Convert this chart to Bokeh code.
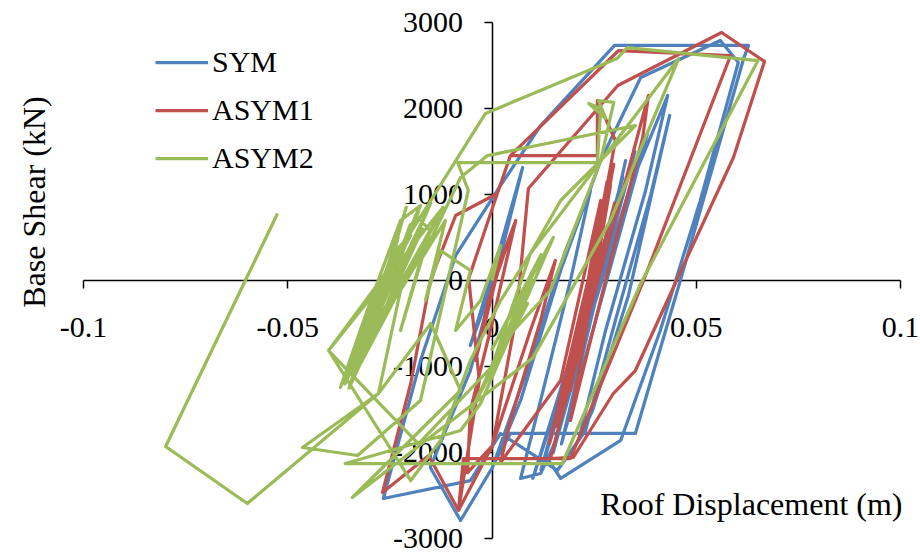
import math

from bokeh.embed import file_html
from bokeh.models import (ColumnDataSource, CustomJSTickFormatter, FixedTicker,
                          Label, Legend, LegendItem, Range1d)
from bokeh.plotting import figure
from bokeh.resources import INLINE

# Roof displacement (m) and base shear (kN) histories for each model
sym_disp = [0.0000, 0.0033, -0.0013, -0.0053, 0.0021, 0.0075, 0.0009, -0.0053, -0.0151, -0.0077,
            0.0001, 0.0094, 0.0180, 0.0241, 0.0192, 0.0119, 0.0070, 0.0119, 0.0160, 0.0253,
            0.0339, 0.0430, 0.0376, 0.0278, 0.0212, 0.0246, 0.0334, 0.0435, 0.0388, 0.0302,
            0.0229, 0.0160, 0.0021, -0.0053, -0.0266, -0.0175, -0.0089, 0.0021, 0.0119, 0.0300,
            0.0628, 0.0616, 0.0461, 0.0351, 0.0045, 0.0009, 0.0070, 0.0168, 0.0266, 0.0364,
            0.0559, 0.0603, 0.0510, 0.0412, 0.0315, 0.0168, 0.0131, 0.0205, 0.0290, 0.0327,
            0.0278, 0.0217, 0.0155, 0.0192, 0.0266, 0.0315, 0.0266,
            0.0140, 0.0300, 0.0180, 0.0350, 0.0150, 0.0280, 0.0200, 0.0320, 0.0120, 0.0260,
            0.0230, 0.0380, 0.0170, 0.0310, 0.0100, 0.0240]
sym_shear = [0, 581, -233, -756, 407, 1314, 58, -1047, -2174, -2791,
             -2174, -930, 349, 1047, 0, -1395, -2302, -2244, -1826, -233,
             1105, 2151, 1047, -581, -1860, -1512, -174, 1919, 988, -465,
             -1744, -2209, -1779, -2326, -2535, -930, 291, 1105, 1802, 2733,
             2733, 2581, 0, -1779, -1779, -2093, -1395, 116, 1395, 2360,
             2791, 2535, 930, -581, -1860, -2302, -2035, -930, 581, 1395,
             349, -814, -1628, -1163, 116, 988, 0,
             -1700, 800, -1300, 1500, -2000, 400, -1100, 1200, -2200, 100,
             -600, 1700, -1900, 900, -2300, -300]

asym1_disp = [0.0000, 0.0045, -0.0009, -0.0040, 0.0021, 0.0058, -0.0004, -0.0053, -0.0060, 0.0001,
              0.0094, 0.0155, 0.0119, 0.0045, 0.0021, 0.0168, 0.0266, 0.0205, 0.0278, 0.0192,
              0.0261, 0.0217, 0.0290, 0.0229, 0.0180, 0.0253, 0.0295, 0.0241, 0.0197, 0.0266,
              0.0302, 0.0258, 0.0258, 0.0045, 0.0013, -0.0057, -0.0031, -0.0082, -0.0155, -0.0268,
              -0.0199, -0.0151, -0.0089, 0.0013, 0.0045, 0.0310, 0.0584, 0.0371, 0.0192, -0.0070,
              -0.0082, 0.0001, 0.0060, 0.0089, 0.0308, 0.0562, 0.0667, 0.0591, 0.0454, 0.0351,
              0.0297, 0.0199, 0.0143, 0.0212, 0.0327, 0.0383, 0.0369, 0.0290, 0.0229, 0.0192,
              0.0246, 0.0300, 0.0250,
              0.0185, 0.0275, 0.0195, 0.0285, 0.0178, 0.0268, 0.0203, 0.0292, 0.0188, 0.0270,
              0.0210, 0.0282, 0.0172, 0.0262, 0.0215, 0.0298, 0.0183, 0.0276, 0.0160, 0.0250,
              0.0140, 0.0230]
asym1_shear = [0, 523, -233, -930, 233, 698, -581, -1512, -2233, -1919,
               -581, 233, -465, -1628, -2116, -1163, 930, -930, 1047, -1279,
               581, -698, 1105, -581, -1395, 349, 1279, -233, -1047, 698,
               1628, 2093, 1453, 1453, 1012, 23, -1163, -2674, -2035, -2465,
               -1198, 0, 756, 1012, 1453, 2674, 2616, 0, -2070, -2070,
               -2674, -1919, -400, 1070, 2267, 2884, 2547, 1430, 23, -1047,
               -1314, -2058, -2070, -814, 1163, 2151, 1663, 233, -930, -1628,
               -116, 900, 0,
               -1300, 900, -1150, 1000, -1450, 750, -1000, 1200, -1250, 600,
               -850, 1150, -1550, 500, -700, 1350, -1350, 850, -1700, 300,
               -1900, -100]

asym2_disp = [0.0000, 0.0021, -0.0028, -0.0089, -0.0053, -0.0126, -0.0163, -0.0114, -0.0175, -0.0224,
              -0.0151, -0.0187, -0.0273, -0.0354, -0.0248, -0.0175, -0.0224, -0.0297, -0.0371, -0.0273,
              -0.0199, -0.0236, -0.0322,
              -0.0330, -0.0180, -0.0340, -0.0200, -0.0310, -0.0150, -0.0360, -0.0230, -0.0290, -0.0130,
              -0.0320, -0.0210, -0.0350, -0.0170, -0.0280, -0.0120,
              -0.0400, -0.0199, -0.0126, -0.0053, 0.0021, 0.0094, 0.0168,
              0.0351, -0.0011, -0.0077, -0.0151, -0.0224, -0.0278, -0.0464, -0.0329, -0.0175, -0.0058,
              -0.0084, 0.0258, 0.0266, 0.0237, 0.0278, 0.0261, 0.0298, 0.0266, 0.0143, 0.0053,
              0.0087, -0.0050, 0.0100, -0.0020, 0.0120, 0.0000, 0.0150,
              -0.0028, -0.0077, -0.0359, 0.0172, 0.0364, 0.0651, 0.0331, 0.0306, -0.0016,
              -0.0273, -0.0400, -0.0180, 0.0000, 0.0094, 0.0457, 0.0290, 0.0100, -0.0342, -0.0077,
              -0.0150, -0.0278, -0.0599, -0.0799, -0.0525]
asym2_shear = [0, 407, -233, -581, 116, 349, -233, 698, 233, -581,
               581, 756, -349, -1128, 116, 872, 698, -233, -1244, -116,
               523, 349, -581,
               -1000, 800, -1150, 650, -850, 900, -1200, 500, -600, 750,
               -950, 850, -1250, 600, -500, 850,
               -814, -2326, -1860, -930, -233, 314, 930,
               1802, 1453, 1198, 465, -116, -1314, -1942, -2035, -1395, 1047,
               1372, 1372, 2000, 2058, 1884, 2093, 2070, 1395, -116, -581,
               -267, -1500, 0, -1200, 300, -800, 500,
               -1430, -1744, -2128, -2128, -35, 2558, 2709, 2581, 1942,
               0, -814, -1900, -1000, 314, 2581, 700, -900, -2523, -1279,
               -500, -1314, -2593, -1930, 779]

series_names = ["SYM", "ASYM1", "ASYM2"]
series_colors = ["#4F81BD", "#C0504D", "#9BBB59"]

x_ticks = [-0.1, -0.05, 0, 0.05, 0.1]
y_ticks = [-3000, -2000, -1000, 0, 1000, 2000, 3000]

FONT = "Liberation Serif"

p = figure(width=920, height=553,
           x_range=Range1d(-0.12032, 0.104896),
           y_range=Range1d(-3174.4, 3255.8),
           output_backend="svg", toolbar_location=None,
           min_border=0, outline_line_color=None, title=None)
p.grid.visible = False
p.background_fill_color = "white"
p.border_fill_color = "white"

# axes cross at the origin
for ax, ticks, bounds, standoff in ((p.xaxis, x_ticks, (-0.1, 0.1), 29),
                                    (p.yaxis, y_ticks, (-3000, 3000), 21)):
    ax.fixed_location = 0
    ax.bounds = bounds
    ax.ticker = FixedTicker(ticks=ticks, minor_ticks=[])
    ax.formatter = CustomJSTickFormatter(code="return tick.toString();")
    ax.major_tick_out = 8
    ax.major_tick_in = 0
    ax.minor_tick_out = 0
    ax.minor_tick_in = 0
    ax.axis_line_color = "black"
    ax.axis_line_width = 1.5
    ax.major_tick_line_color = "black"
    ax.major_tick_line_width = 1.5
    ax.major_label_standoff = standoff
    ax.major_label_text_font = FONT
    ax.major_label_text_font_size = "30px"
    ax.major_label_text_color = "black"
    ax.level = "underlay"

renderers = []
for name, color, xs, ys in zip(series_names, series_colors,
                               [sym_disp, asym1_disp, asym2_disp],
                               [sym_shear, asym1_shear, asym2_shear]):
    src = ColumnDataSource(data=dict(x=xs, y=ys))
    r = p.line("x", "y", source=src, line_color=color, line_width=3.25,
               line_join="round")
    renderers.append(r)

legend = Legend(items=[LegendItem(label=n, renderers=[r]) for n, r in zip(series_names, renderers)],
                location=(155, 371), orientation="vertical",
                border_line_color=None, background_fill_alpha=0,
                padding=0, margin=0, spacing=0,
                glyph_width=53, glyph_height=48, label_height=48, label_standoff=4,
                label_text_font=FONT, label_text_font_size="30px", label_text_color="black")
p.add_layout(legend)

p.add_layout(Label(x=0.0635, y=-2597, text="Roof Displacement (m)",
                   text_align="center", text_baseline="alphabetic",
                   text_font=FONT, text_font_size="32px", text_color="black"))
p.add_layout(Label(x=-0.1122, y=913, text="Base Shear (kN)", angle=math.pi / 2,
                   text_align="center", text_baseline="alphabetic",
                   text_font=FONT, text_font_size="32px", text_color="black"))

open("out.html", "w").write(file_html(p, INLINE))
